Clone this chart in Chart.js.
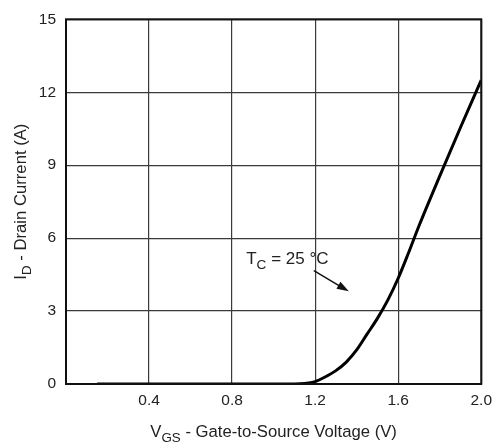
<!DOCTYPE html>
<html>
<head>
<meta charset="utf-8">
<script src="https://cdn.jsdelivr.net/npm/chart.js@4/dist/chart.umd.min.js"></script>
<style>
  html, body { margin: 0; padding: 0; background: #fff; }
  #wrap { width: 499px; height: 445px; }
</style>
</head>
<body>
<div id="wrap"><canvas id="g_id"></canvas></div>
<script>
// valeurs (V_GS en V, I_D en A)
const vgs = [0.15, 0.4, 0.8, 1.0, 1.1, 1.15, 1.2, 1.25, 1.3, 1.35, 1.4, 1.45, 1.5, 1.55, 1.6, 1.65, 1.7, 1.8, 1.9, 2.0];
const idA = [0, 0, 0, 0, 0, 0.02, 0.1, 0.3, 0.55, 0.9, 1.4, 2.05, 2.7, 3.45, 4.35, 5.4, 6.5, 8.55, 10.55, 12.5];

// graduations
const xTicks = [0.4, 0.8, 1.2, 1.6, 2.0];
const yTicks = [0, 3, 6, 9, 12, 15];

// annotation T_C = 25 °C (coordonnées en unités des axes)
const noteAt = [0.868, 4.94];
const arrowFrom = [1.194, 4.66];
const arrowTo = [1.362, 3.81];

const FONT = '"Liberation Sans", Arial, sans-serif';
const INK = '#222';

// écrit une suite de morceaux [texte, indice?] et renvoie la largeur
function drawParts(ctx, parts, x, y, size, measureOnly) {
    let w = 0;
    for (let p of parts) {
        let s = p[1] ? size * 0.8 : size;
        ctx.font = s + 'px ' + FONT;
        if (!measureOnly) ctx.fillText(p[0], x + w, y + (p[1] ? size * 0.3 : 0));
        w += ctx.measureText(p[0]).width;
    }
    return w;
}

const extras = {
    id: 'extras',
    afterDatasetsDraw(chart) {
        const ctx = chart.ctx;
        const a = chart.chartArea;
        const sx = chart.scales.x, sy = chart.scales.y;
        ctx.save();
        // cadre
        ctx.strokeStyle = '#111';
        ctx.lineWidth = 2;
        ctx.strokeRect(a.left, a.top, a.right - a.left, a.bottom - a.top);

        ctx.fillStyle = INK;
        ctx.textBaseline = 'alphabetic';
        // titre axe x
        const xParts = [['V'], ['GS', true], [' - Gate-to-Source Voltage (V)']];
        let w = drawParts(ctx, xParts, 0, 0, 16.7, true);
        drawParts(ctx, xParts, (a.left + a.right) / 2 - w / 2, 437, 16.7);
        // titre axe y
        const yParts = [['I'], ['D', true], [' - Drain Current (A)']];
        w = drawParts(ctx, yParts, 0, 0, 16.7, true);
        ctx.save();
        ctx.translate(26, (a.top + a.bottom) / 2);
        ctx.rotate(-Math.PI / 2);
        drawParts(ctx, yParts, -w / 2, 0, 16.7);
        ctx.restore();

        // annotation
        drawParts(ctx, [['T'], ['C', true], [' = 25 °C']],
            sx.getPixelForValue(noteAt[0]), sy.getPixelForValue(noteAt[1]), 17);
        let x1 = sx.getPixelForValue(arrowFrom[0]), y1 = sy.getPixelForValue(arrowFrom[1]);
        let x2 = sx.getPixelForValue(arrowTo[0]), y2 = sy.getPixelForValue(arrowTo[1]);
        let ang = Math.atan2(y2 - y1, x2 - x1);
        ctx.strokeStyle = '#111';
        ctx.lineWidth = 1.5;
        ctx.beginPath();
        ctx.moveTo(x1, y1);
        ctx.lineTo(x2 - 8 * Math.cos(ang), y2 - 8 * Math.sin(ang));
        ctx.stroke();
        ctx.fillStyle = '#111';
        ctx.beginPath();
        ctx.moveTo(x2, y2);
        ctx.lineTo(x2 - 12 * Math.cos(ang) + 4 * Math.sin(ang), y2 - 12 * Math.sin(ang) - 4 * Math.cos(ang));
        ctx.lineTo(x2 - 12 * Math.cos(ang) - 4 * Math.sin(ang), y2 - 12 * Math.sin(ang) + 4 * Math.cos(ang));
        ctx.closePath();
        ctx.fill();
        ctx.restore();
    }
};

window.addEventListener('load', () => {
    let points = [];
    for (let i = 0; i < vgs.length; i++) {
        points.push({ x: vgs[i], y: idA[i] });
    }
    let context = document.getElementById('g_id').getContext('2d');
    let config = {
        type: 'line',
        data: {
            datasets: [{
                data: points,
                borderColor: '#000',
                borderWidth: 3,
                pointRadius: 0,
                cubicInterpolationMode: 'monotone',
                fill: false
            }]
        },
        options: {
            responsive: true,
            maintainAspectRatio: false,
            animation: false,
            layout: { padding: { left: 0, right: 16, top: 13, bottom: 0 } },
            plugins: { legend: { display: false }, tooltip: { enabled: false } },
            scales: {
                x: {
                    type: 'linear',
                    min: 0,
                    max: 2.0,
                    afterFit: (s) => { s.height = 61; },
                    afterBuildTicks: (s) => {
                        s.ticks = [{ value: 0 }].concat(xTicks.map(v => ({ value: v })));
                    },
                    grid: { color: '#3a3a3a', lineWidth: 1.2, drawTicks: false },
                    border: { display: false },
                    ticks: {
                        padding: 7,
                        color: INK,
                        font: { family: FONT, size: 15.5 },
                        callback: (v) => v === 0 ? '' : v.toFixed(1)
                    }
                },
                y: {
                    min: 0,
                    max: 15,
                    afterFit: (s) => { s.width = 66; },
                    afterBuildTicks: (s) => {
                        s.ticks = yTicks.map(v => ({ value: v }));
                    },
                    grid: { color: '#3a3a3a', lineWidth: 1.2, drawTicks: false },
                    border: { display: false },
                    ticks: {
                        padding: 10,
                        color: INK,
                        font: { family: FONT, size: 15.5 }
                    }
                }
            }
        },
        plugins: [extras]
    };
    new Chart(context, config);
});
</script>
</body>
</html>
